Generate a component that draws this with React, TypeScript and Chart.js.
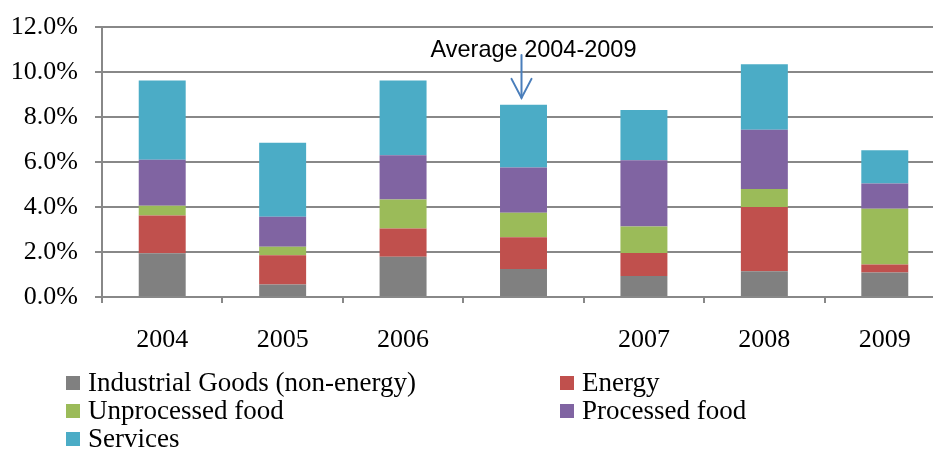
import React, { useEffect, useRef } from "react";
import { Chart, registerables } from "chart.js";
Chart.register(...registerables);

const categories = ["2004", "2005", "2006", "", "2007", "2008", "2009"];
const industrialGoods = [1.95, 0.56, 1.79, 1.24, 0.93, 1.15, 1.09];
const energy = [1.67, 1.30, 1.25, 1.42, 1.03, 2.85, 0.36];
const unprocessedFood = [0.44, 0.37, 1.29, 1.08, 1.17, 0.80, 2.47];
const processedFood = [2.04, 1.34, 1.97, 2.02, 2.95, 2.63, 1.12];
const services = [3.52, 3.29, 3.32, 2.78, 2.23, 2.92, 1.48];
const seriesNames = ["Industrial Goods (non-energy)", "Energy", "Unprocessed food", "Processed food", "Services"];
const seriesColors = ["#808080", "#C0504D", "#9BBB59", "#8064A2", "#4BACC6"];
const yMin = 0;
const yMax = 12;
const yStep = 2;
const annotationText = "Average 2004-2009";
const annotationIndex = 3;

const seriesValues = [industrialGoods, energy, unprocessedFood, processedFood, services];

const SERIF = "'Liberation Serif', 'Times New Roman', serif";
const GRID = "#888888";

const annotationPlugin = {
  id: "avgAnnotation",
  afterDraw(chart: any) {
    const { ctx, scales } = chart;
    const x = scales.x;
    const y = scales.y;
    const cx = x.getPixelForValue(annotationIndex) - 2;
    const total = seriesValues.reduce((s, arr) => s + arr[annotationIndex], 0);
    const tipY = y.getPixelForValue(total) - 7;
    const topY = y.getPixelForValue(yMax) + 28;
    ctx.save();
    ctx.strokeStyle = "#4A7EBB";
    ctx.lineWidth = 2;
    ctx.lineCap = "round";
    ctx.beginPath();
    ctx.moveTo(cx, topY);
    ctx.lineTo(cx, tipY);
    ctx.stroke();
    ctx.beginPath();
    ctx.moveTo(cx - 10, tipY - 19);
    ctx.lineTo(cx, tipY);
    ctx.lineTo(cx + 10, tipY - 19);
    ctx.stroke();
    ctx.font = "24px 'Liberation Sans', Arial, sans-serif";
    ctx.fillStyle = "#000";
    ctx.textBaseline = "alphabetic";
    const w = ctx.measureText(annotationText).width;
    const tx = cx - 91;
    const ty = y.getPixelForValue(yMax) + 30;
    ctx.translate(tx, ty);
    ctx.scale(206 / w, 1);
    ctx.fillText(annotationText, 0, 0);
    ctx.restore();
  },
};

export default function App() {
  const ref = useRef<HTMLCanvasElement>(null);
  useEffect(() => {
    if (!ref.current) return;
    const chart = new Chart(ref.current, {
      type: "bar",
      data: {
        labels: categories,
        datasets: seriesNames.map((name, i) => ({
          label: name,
          data: seriesValues[i],
          backgroundColor: seriesColors[i],
          borderWidth: 0,
          barPercentage: 0.39,
          categoryPercentage: 1.0,
        })),
      },
      options: {
        responsive: false,
        animation: false,
        layout: { padding: { top: 27, right: 15, bottom: 0, left: 0 } },
        plugins: { legend: { display: false }, tooltip: { enabled: false } },
        scales: {
          x: {
            stacked: true,
            offset: true,
            grid: {
              display: true,
              drawOnChartArea: false,
              drawTicks: true,
              tickLength: 6,
              color: GRID,
              lineWidth: 2,
              offset: true,
            },
            border: { display: true, color: GRID, width: 2 },
            ticks: {
              font: { family: SERIF, size: 26 },
              color: "#000",
              padding: 22,
              maxRotation: 0,
              autoSkip: false,
            },
            afterFit: (s: any) => {
              s.height = 155;
              s.paddingLeft = 0;
              s.paddingRight = 0;
            },
          },
          y: {
            stacked: true,
            min: yMin,
            max: yMax,
            ticks: {
              stepSize: yStep,
              callback: (v: any) => Number(v).toFixed(1) + "%",
              font: { family: SERIF, size: 26 },
              color: "#000",
              padding: 17,
            },
            grid: { color: GRID, lineWidth: 2, tickLength: 7, drawTicks: true },
            border: { display: true, color: GRID, width: 2 },
            afterFit: (s: any) => {
              s.width = 102;
              s.paddingTop = 0;
              s.paddingBottom = 0;
            },
          },
        },
      },
      plugins: [annotationPlugin],
    });
    return () => chart.destroy();
  }, []);

  const legendPos = [
    { left: 66, top: 368 },
    { left: 560, top: 368 },
    { left: 66, top: 396 },
    { left: 560, top: 396 },
    { left: 66, top: 424 },
  ];

  return (
    <div style={{ position: "absolute", left: 0, top: 0, width: 933, height: 452, overflow: "hidden", background: "#fff" }}>
      <canvas ref={ref} width={960} height={452} style={{ position: "absolute", left: 0, top: 0 }} />
      {seriesNames.map((name, i) => (
        <div
          key={name}
          style={{
            position: "absolute",
            left: legendPos[i].left,
            top: legendPos[i].top,
            height: 29,
            lineHeight: "29px",
            fontFamily: SERIF,
            fontSize: 27,
            color: "#000",
            whiteSpace: "nowrap",
          }}
        >
          <span
            style={{
              position: "absolute",
              left: 0,
              top: 8,
              width: 14,
              height: 14,
              background: seriesColors[i],
            }}
          />
          <span style={{ position: "absolute", left: 22, top: 0 }}>{name}</span>
        </div>
      ))}
    </div>
  );
}
